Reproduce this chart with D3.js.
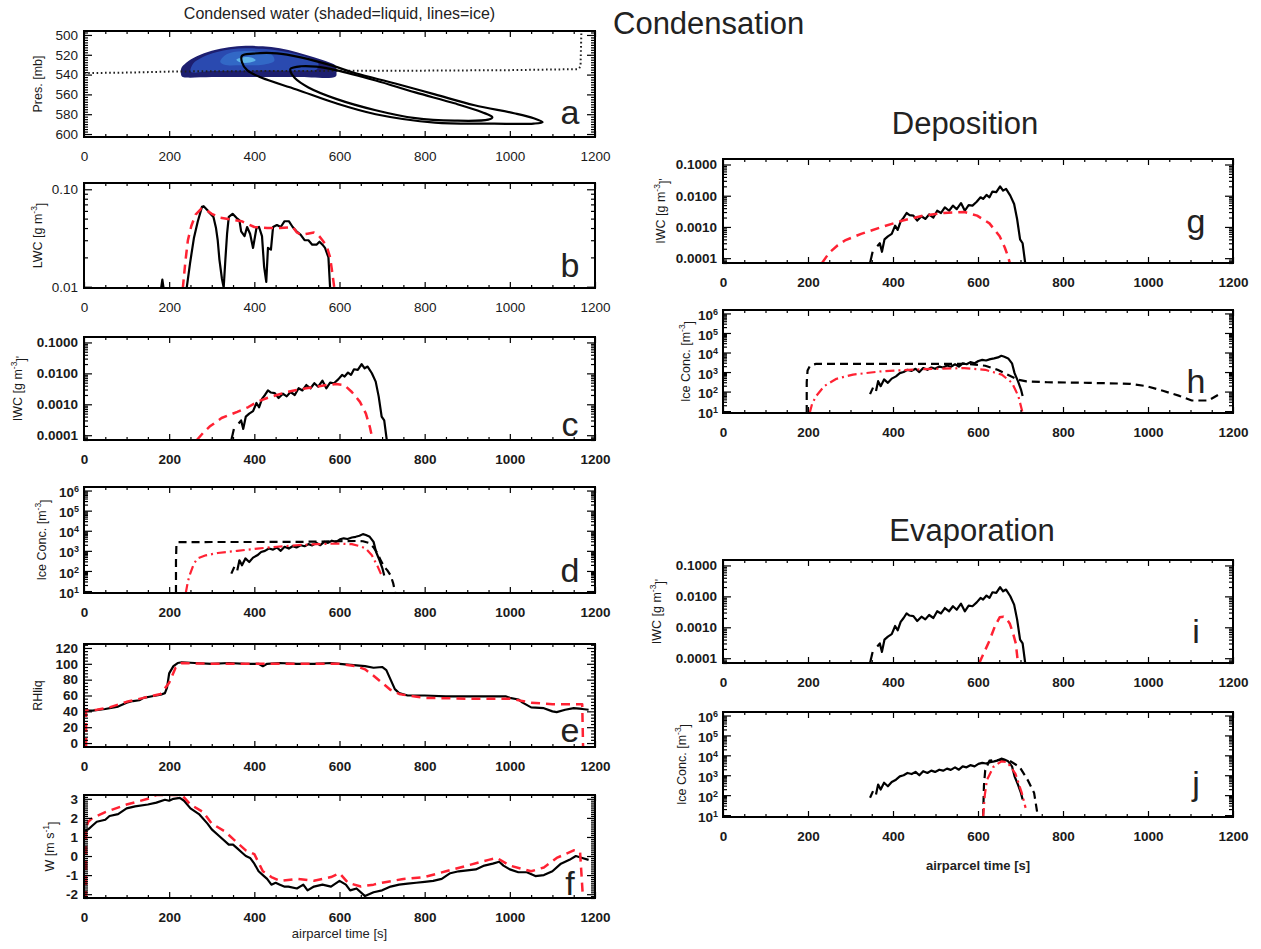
<!DOCTYPE html>
<html><head><meta charset="utf-8">
<script src="https://cdn.jsdelivr.net/npm/d3@7"></script>
<style>body{margin:0;background:#fff}</style>
</head><body>
<svg id="c" width="1261" height="949" xmlns="http://www.w3.org/2000/svg"></svg>
<script>
// ---------------- DATA ----------------
const timeTicks = [0,200,400,600,800,1000,1200];
const presTicks = [500,520,540,560,580,600];
const lwcTicks = [0.01,0.1];
const iwcTicks = [0.0001,0.001,0.01,0.1];
const concTicks = [1e1,1e2,1e3,1e4,1e5,1e6];
const rhTicks = [0,20,40,60,80,100,120];
const wTicks = [-2,-1,0,1,2,3];

// panel a: parcel level (dotted), liquid shading, ice contours  [time, pressure]
const parcelLevel = [[0,538.5],[100,538],[200,537],[230,536.8],[400,536.5],[600,536.2],[800,536],[1000,535.5],[1160,534.5],[1166,532],[1168,497]];
const liquidOuter = [[230,542],[228,534],[240,528],[265,521.5],[300,516],[340,512.5],[380,511],[420,511.5],[460,513.5],[500,517.5],[540,522.5],[575,527.5],[591,531],[593,538],[591,542],[500,542.5],[400,542.5],[300,542.5],[240,543]];
const liquidMid = [[250,537],[256,529],[278,522.5],[310,517.5],[345,514.5],[380,513.5],[420,514],[460,516],[500,519.5],[530,523.5],[550,528.5],[547,534.5],[500,536],[400,536],[300,536.5],[258,538]];
const liquidLight = [[320,527],[335,519.5],[370,516.5],[410,517],[440,519.5],[447,526],[420,530],[370,530.5],[330,530]];
const liquidCore = [[358,525],[375,522.5],[395,523],[403,525.5],[390,527.8],[368,527.8]];
const iceOuter = [[371,521],[397,518.8],[453,518.5],[509,522.6],[583,531],[638,538.7],[731,549],[824,560],[917,571],[1010,579],[1056,584],[1077,588],[1056,589.5],[963,589.5],[824,588.5],[685,580],[592,569],[499,555],[416,543],[383,535.5],[371,527.5]];
const iceInner = [[485,534],[509,531.6],[546,532],[592,535.5],[685,546],[778,558],[870,569],[935,578],[959,583],[949,585.5],[870,586.5],[778,584],[685,576],[592,564.5],[527,553],[495,543.5],[485,537]];

// panel b: LWC [time, g m-3]
const lwcSpike = [[181,0.0096],[184,0.0118],[187,0.0096]];
const lwcObs = [[241,0.0096],[249,0.0174],[258,0.0314],[267,0.0465],[277,0.066],[281,0.067],[290,0.061],[295,0.057],[304,0.052],[310,0.040],[314,0.030],[318,0.019],[324,0.012],[328,0.0098],[332,0.019],[336,0.035],[340,0.052],[349,0.056],[358,0.051],[365,0.048],[369,0.037],[377,0.033],[383,0.041],[390,0.035],[397,0.025],[405,0.040],[411,0.041],[418,0.033],[423,0.016],[428,0.0112],[432,0.025],[439,0.024],[444,0.041],[453,0.043],[462,0.041],[471,0.047],[481,0.047],[490,0.041],[499,0.037],[509,0.034],[518,0.030],[527,0.030],[536,0.027],[546,0.027],[553,0.029],[560,0.027],[566,0.025],[574,0.020],[578,0.0096]];
const lwcModel = [[232,0.0096],[238,0.018],[244,0.03],[252,0.042],[262,0.055],[275,0.063],[285,0.062],[300,0.056],[320,0.051],[345,0.049],[370,0.047],[385,0.044],[400,0.041],[430,0.040],[460,0.040],[490,0.041],[500,0.036],[510,0.034],[525,0.035],[540,0.036],[550,0.034],[560,0.030],[570,0.026],[578,0.020],[584,0.013],[588,0.0096]];

// panels c, g, i: IWC [time, g m-3]
const iwcObsStart = [[346,0.00007],[352,0.00016]];
const iwcObs = [[363,0.00024],[369,0.0003],[374,0.00016],[380,0.0004],[388,0.0005],[397,0.0006],[405,0.0011],[411,0.0008],[418,0.0015],[425,0.002],[432,0.0028],[439,0.0024],[448,0.0023],[457,0.0016],[467,0.0022],[476,0.0018],[485,0.0025],[495,0.002],[504,0.0033],[513,0.0028],[522,0.0042],[532,0.0033],[541,0.0048],[550,0.0037],[560,0.0058],[569,0.0033],[578,0.005],[587,0.0048],[597,0.0064],[606,0.0089],[612,0.0079],[620,0.0106],[627,0.0089],[634,0.0136],[643,0.013],[652,0.02],[659,0.0146],[666,0.0166],[676,0.0101],[685,0.0054],[692,0.0018],[699,0.0004],[705,0.0003],[711,0.00007]];
const iwcModelCond = [[265,0.00007],[280,0.00012],[295,0.00019],[323,0.00036],[360,0.00057],[385,0.0008],[407,0.0012],[430,0.0016],[453,0.002],[476,0.0025],[499,0.0029],[522,0.0033],[546,0.0037],[570,0.0042],[592,0.0045],[611,0.0042],[629,0.0025],[648,0.0012],[662,0.0005],[671,0.00019],[678,0.00007]];
const iwcModelDep = [[233,0.00007],[250,0.00015],[270,0.00026],[287,0.00037],[325,0.0006],[374,0.001],[423,0.0016],[471,0.0023],[520,0.0028],[568,0.003],[598,0.0023],[627,0.0013],[651,0.0005],[663,0.00022],[670,0.00012],[675,0.00007]];
const iwcModelEvap = [[603,0.00007],[615,0.00016],[627,0.00037],[640,0.0011],[651,0.0021],[660,0.0022],[668,0.0018],[675,0.0013],[683,0.0006],[689,0.0003],[694,0.00007]];

// panels d, h, j: ice concentration [time, m-3]
const concObsStart = [[346,74],[353,160]];
const concObs = [[360,107],[365,340],[371,190],[379,420],[388,280],[397,460],[407,600],[416,880],[425,1000],[434,1300],[444,1150],[453,1470],[462,1000],[471,1600],[481,1300],[490,1700],[499,1470],[509,1900],[518,1700],[527,2150],[536,1860],[546,2500],[555,1900],[564,2800],[573,2500],[582,3200],[592,2800],[601,3700],[610,4200],[619,3900],[629,4600],[638,5000],[647,5600],[655,6800],[662,6100],[671,5000],[680,2800],[686,880],[694,340],[701,130],[705,60]];
const concTotalCond = [[216,8],[216,300],[217,2000],[220,2700],[300,2750],[400,2750],[500,2800],[560,2900],[600,3000],[640,3100],[655,3000],[668,2500],[680,1500],[690,700],[698,300],[705,160],[712,110],[720,60],[726,25],[731,8]];
const concNewCond = [[239,8],[244,30],[249,70],[258,230],[267,420],[286,600],[314,780],[360,1000],[407,1300],[453,1600],[499,1900],[546,2150],[592,2300],[629,2150],[648,1700],[662,1300],[676,600],[690,160],[697,74],[700,60]];
const concTotalDep = [[197,8],[197,300],[199,1200],[204,1950],[212,2400],[219,2600],[300,2600],[400,2600],[500,2600],[578,2600],[617,2100],[646,1300],[675,650],[695,400],[714,330],[763,300],[860,280],[957,250],[996,190],[1035,110],[1074,60],[1103,35],[1142,35],[1166,70]];
const concNewDep = [[204,8],[210,25],[219,58],[238,190],[267,450],[306,740],[374,1100],[471,1400],[568,1600],[617,1300],[656,740],[680,280],[695,58],[705,8]];
const concTotalEvap = [[612,8],[614,300],[617,1800],[627,5400],[655,6000],[674,5400],[698,2600],[717,570],[732,130],[741,8]];
const concNewEvap = [[612,8],[616,100],[621,570],[636,2600],[655,5000],[669,4500],[688,1200],[703,130],[712,23]];

// panel e: RH over liquid [time, %]
const rhObs = [[0,41],[20,41],[50,43],[80,46],[100,51],[115,53],[130,54],[140,57],[160,59],[180,61],[190,63],[195,70],[200,88],[210,97],[220,101],[230,102],[260,101],[300,100],[340,101],[380,100],[410,100],[420,97],[430,100],[460,101],[500,100],[540,100],[580,101],[600,100],[620,99],[640,98],[660,97],[680,95],[700,96],[710,92],[720,80],[730,68],[740,63],[760,60],[780,60],[800,60],[850,59],[900,59],[950,59],[990,59],[1000,57],[1020,55],[1030,51],[1050,45],[1080,44],[1100,40],[1110,39],[1130,42],[1150,44],[1170,43],[1185,42]];
const rhModel = [[5,-5],[5,41],[30,42],[60,45],[100,52],[140,57],[180,62],[200,76],[215,95],[230,101],[300,100],[400,100],[500,100],[600,100],[640,97],[660,93],[680,85],[700,76],[720,67],[740,62],[760,60],[800,57],[900,56],[1000,56],[1050,51],[1100,49],[1150,49],[1170,49],[1172,-5]];

// panel f: vertical velocity [time, m s-1]
const wObs = [[0,1.3],[10,1.4],[20,1.6],[30,1.8],[50,1.9],[60,2.1],[80,2.2],[100,2.5],[120,2.6],[150,2.7],[170,2.8],[190,2.95],[200,2.9],[210,3.0],[225,3.05],[235,2.9],[250,2.5],[270,2.2],[290,1.7],[300,1.4],[320,1.0],[340,0.6],[350,0.6],[360,0.4],[370,0.2],[380,0.0],[390,-0.1],[400,-0.4],[410,-0.8],[420,-1.0],[430,-1.2],[440,-1.5],[450,-1.4],[460,-1.5],[470,-1.6],[480,-1.6],[500,-1.7],[515,-1.5],[525,-1.8],[540,-1.6],[560,-1.5],[580,-1.6],[600,-1.3],[615,-1.5],[625,-1.8],[640,-1.7],[660,-2.1],[680,-1.9],[700,-1.8],[720,-1.6],[740,-1.5],[760,-1.45],[780,-1.4],[800,-1.35],[820,-1.3],[840,-1.2],[860,-0.9],[880,-0.8],[900,-0.75],[920,-0.7],[940,-0.5],[960,-0.4],[975,-0.3],[985,-0.5],[1000,-0.7],[1020,-0.85],[1040,-0.85],[1060,-1.05],[1080,-1.0],[1100,-0.8],[1120,-0.4],[1140,-0.2],[1155,0.0],[1170,-0.1],[1185,-0.2]];
const wModel = [[5,-2.3],[5,1.5],[10,1.8],[20,2.0],[50,2.3],[100,2.7],[150,3.0],[170,3.2],[230,3.2],[250,2.7],[280,2.3],[300,1.7],[330,1.3],[360,0.7],[380,0.3],[400,0.1],[420,-0.8],[440,-1.1],[460,-1.3],[500,-1.2],[540,-1.3],[580,-1.1],[600,-0.9],[620,-1.4],[650,-1.6],[680,-1.5],[700,-1.4],[750,-1.2],[800,-1.1],[850,-0.8],[900,-0.5],[950,-0.2],[970,-0.1],[1000,-0.5],[1050,-0.8],[1080,-0.6],[1110,-0.1],[1150,0.3],[1165,0.2],[1172,-2.3]];

// ---------------- DRAWING ----------------
const FONT = "'Liberation Sans', Arial, Helvetica, sans-serif";
const RED = "#ff2233";
const STY = {
  solid:   {stroke:"#000", w:2.2, dash:null},
  reddash: {stroke:RED, w:2.5, dash:"9,6"},
  blkdash: {stroke:"#000", w:2.2, dash:"8,5"},
  reddot:  {stroke:RED, w:2.2, dash:"9,4,2,4"}
};
const svg = d3.select("#c");

const L = {x0:84, x1:595}, R = {x0:723, x1:1233};
const iwcLab = [["IWC [g m",0],["-3",1],["]'",0]];
const concLab = [["Ice Conc. [m",0],["-3",1],["]",0]];
const iwcFmt = d => d.toFixed(4);
const TF = 13.5;

const panels = [
 {col:L, y0:31, y1:137, dom:[496,603], rev:true, log:false, ticks:presTicks, minor:2.5, fmt:d=>d, lab:[["Pres. [mb]",0]], labX:38, letter:"a", ly:124, bold:false},
 {col:L, y0:183, y1:288, dom:[0.0097,0.116], log:true, ticks:lwcTicks, fmt:d=>d.toFixed(2), lab:[["LWC [g m",0],["-3",1],["]",0]], labX:38, letter:"b", ly:277, bold:false,
   series:[[lwcSpike,"solid"],[lwcObs,"solid"],[lwcModel,"reddash"]]},
 {col:L, y0:337, y1:440, dom:[0.00007,0.15], log:true, ticks:iwcTicks, fmt:iwcFmt, lab:iwcLab, labX:18, letter:"c", ly:436, bold:true,
   series:[[iwcObsStart,"solid"],[iwcObs,"solid"],[iwcModelCond,"reddash"]]},
 {col:L, y0:487, y1:593, dom:[8,1.5e6], log:true, ticks:concTicks, sup:true, lab:concLab, labX:42, letter:"d", ly:582, bold:true,
   series:[[concObsStart,"solid"],[concObs,"solid"],[concTotalCond,"blkdash"],[concNewCond,"reddot"]]},
 {col:L, y0:644, y1:747, dom:[-5,125], log:false, ticks:rhTicks, minor:4, fmt:d=>d, lab:[["RHliq",0]], labX:38, letter:"e", ly:742, bold:true,
   series:[[rhObs,"solid"],[rhModel,"reddash"]]},
 {col:L, y0:795, y1:898, dom:[-2.2,3.2], log:false, ticks:wTicks, minor:0.1, fmt:d=>d, lab:[["W [m s",0],["-1",1],["]",0]], labX:50, letter:"f", ly:895, bold:true,
   series:[[wObs,"solid"],[wModel,"reddash"]]},
 {col:R, y0:159, y1:263, dom:[0.00007,0.15], log:true, ticks:iwcTicks, fmt:iwcFmt, lab:iwcLab, labX:661, letter:"g", ly:233, bold:true,
   series:[[iwcObsStart,"solid"],[iwcObs,"solid"],[iwcModelDep,"reddash"]]},
 {col:R, y0:310, y1:413, dom:[8,1.5e6], log:true, ticks:concTicks, sup:true, lab:concLab, labX:686, letter:"h", ly:393, bold:true,
   series:[[concObsStart,"solid"],[concObs,"solid"],[concTotalDep,"blkdash"],[concNewDep,"reddot"]]},
 {col:R, y0:560, y1:663, dom:[0.00007,0.15], log:true, ticks:iwcTicks, fmt:iwcFmt, lab:iwcLab, labX:657, letter:"i", ly:643, bold:true,
   series:[[iwcObsStart,"solid"],[iwcObs,"solid"],[iwcModelEvap,"reddash"]]},
 {col:R, y0:712, y1:817, dom:[8,1.5e6], log:true, ticks:concTicks, sup:true, lab:concLab, labX:682, letter:"j", ly:795, bold:true,
   series:[[concObsStart,"solid"],[concObs,"solid"],[concTotalEvap,"blkdash"],[concNewEvap,"reddot"]]}
];

function logMinor(dom){
  const out=[];
  for(let e=Math.floor(Math.log10(dom[0]))-1;e<=Math.ceil(Math.log10(dom[1]));e++)
    for(let k=2;k<=9;k++){const v=k*Math.pow(10,e); if(v>dom[0]&&v<dom[1]) out.push(v);}
  return out;
}
function styleAxis(g, bold){
  g.select(".domain").remove();
  g.selectAll(".tick line").attr("stroke","#000").attr("stroke-width",1.2);
  g.selectAll("text").attr("font-family",FONT).attr("font-size",TF).attr("fill","#1a1a1a")
   .attr("font-weight", bold?"bold":"normal");
}

panels.forEach((p,i)=>{
  const x = d3.scaleLinear().domain([0,1200]).range([p.col.x0,p.col.x1]);
  const y = (p.log?d3.scaleLog():d3.scaleLinear()).domain(p.dom).range(p.rev?[p.y0,p.y1]:[p.y1,p.y0]);
  p.x=x; p.y=y;
  const g = svg.append("g");
  const clipId="clip"+i;
  svg.append("clipPath").attr("id",clipId).append("rect")
    .attr("x",p.col.x0).attr("y",p.y0).attr("width",p.col.x1-p.col.x0).attr("height",p.y1-p.y0);
  const plot = g.append("g").attr("clip-path",`url(#${clipId})`);
  p.plot = plot;

  const xMinor = d3.range(50,1200,50).filter(v=>v%200!==0);
  const gb = g.append("g").attr("transform",`translate(0,${p.y1})`)
    .call(d3.axisBottom(x).tickValues(timeTicks).tickSize(-6).tickPadding(14).tickFormat(d=>d));
  styleAxis(gb,p.bold);
  g.append("g").attr("transform",`translate(0,${p.y1})`)
    .call(d3.axisBottom(x).tickValues(xMinor).tickSize(-3).tickFormat("")).call(s=>styleAxis(s,false));
  g.append("g").attr("transform",`translate(0,${p.y0})`)
    .call(d3.axisTop(x).tickValues(timeTicks).tickSize(-6).tickFormat("")).call(s=>styleAxis(s,false));
  g.append("g").attr("transform",`translate(0,${p.y0})`)
    .call(d3.axisTop(x).tickValues(xMinor).tickSize(-3).tickFormat("")).call(s=>styleAxis(s,false));

  let yMinor;
  if(p.log) yMinor = logMinor(p.dom);
  else { const lo=Math.min(...p.dom), hi=Math.max(...p.dom);
    yMinor = d3.range(Math.ceil(lo/p.minor)*p.minor, hi, p.minor).map(v=>+v.toFixed(4)).filter(v=>!p.ticks.some(t=>Math.abs(t-v)<1e-6)); }
  const gl = g.append("g").attr("transform",`translate(${p.col.x0},0)`)
    .call(d3.axisLeft(y).tickValues(p.ticks).tickSize(-8).tickPadding(6).tickFormat(p.sup?"":p.fmt));
  styleAxis(gl,p.bold);
  if(p.sup){
    gl.selectAll(".tick").append("text").attr("x",-5).attr("dy","0.45em").attr("text-anchor","end")
      .attr("font-family",FONT).attr("font-size",TF).attr("fill","#1a1a1a").attr("font-weight","bold")
      .each(function(d){
        const t=d3.select(this);
        t.append("tspan").text("10");
        t.append("tspan").attr("dy","-0.55em").attr("font-size",9).text(Math.round(Math.log10(d)));
      });
  }
  g.append("g").attr("transform",`translate(${p.col.x0},0)`)
    .call(d3.axisLeft(y).tickValues(yMinor).tickSize(-4).tickFormat("")).call(s=>styleAxis(s,false));
  g.append("g").attr("transform",`translate(${p.col.x1},0)`)
    .call(d3.axisRight(y).tickValues(p.ticks).tickSize(-8).tickFormat("")).call(s=>styleAxis(s,false));
  g.append("g").attr("transform",`translate(${p.col.x1},0)`)
    .call(d3.axisRight(y).tickValues(yMinor).tickSize(-4).tickFormat("")).call(s=>styleAxis(s,false));

  const line = d3.line().x(d=>x(d[0])).y(d=>y(d[1]));
  (p.series||[]).forEach(([data,st])=>{
    const s=STY[st];
    plot.append("path").attr("d",line(data)).attr("fill","none")
      .attr("stroke",s.stroke).attr("stroke-width",s.w).attr("stroke-linejoin","round")
      .attr("stroke-dasharray",s.dash);
  });

  g.append("rect").attr("x",p.col.x0).attr("y",p.y0).attr("width",p.col.x1-p.col.x0).attr("height",p.y1-p.y0)
    .attr("fill","none").attr("stroke","#000").attr("stroke-width",2);

  const cy=(p.y0+p.y1)/2;
  const yl = g.append("text").attr("transform",`translate(${p.labX},${cy}) rotate(-90)`)
    .attr("text-anchor","middle").attr("font-family",FONT).attr("font-size",12.5).attr("fill","#1a1a1a")
    .attr("dy","0.35em");
  p.lab.forEach(([t,s])=>{
    const ts=yl.append("tspan").text(t);
    if(s===1) ts.attr("font-size",8.5).attr("dy","-0.6em");
    else if(yl.selectAll("tspan").size()>1) ts.attr("dy","0.6em");
  });

  g.append("text").attr("x",p.col.x1-(p.col===L?25:37)).attr("y",p.ly).attr("text-anchor","middle")
    .attr("font-family",FONT).attr("font-size",34).attr("fill","#222").text(p.letter);
});

// ---- panel a content ----
{
  const p=panels[0], x=p.x, y=p.y, plot=p.plot;
  const closed = d3.line().x(d=>x(d[0])).y(d=>y(d[1])).curve(d3.curveCatmullRomClosed.alpha(0.5));
  plot.insert("path",":first-child").attr("d",closed(liquidCore)).attr("fill","#5fb4ea");
  plot.insert("path",":first-child").attr("d",closed(liquidLight)).attr("fill","#3268c6");
  plot.insert("path",":first-child").attr("d",closed(liquidMid)).attr("fill","#2a4ab0");
  plot.insert("path",":first-child").attr("d",closed(liquidOuter)).attr("fill","#1d1f70");
  plot.append("path").attr("d",d3.line().x(d=>x(d[0])).y(d=>y(d[1]))(parcelLevel))
    .attr("fill","none").attr("stroke","#222").attr("stroke-width",2).attr("stroke-dasharray","1.6,2.6");
  [iceOuter,iceInner].forEach(c=>plot.append("path").attr("d",closed(c)).attr("fill","none")
    .attr("stroke","#000").attr("stroke-width",2.2));
}

// ---- titles ----
svg.append("text").attr("x",(L.x0+L.x1)/2).attr("y",19).attr("text-anchor","middle")
  .attr("font-family",FONT).attr("font-size",16).attr("fill","#222").text("Condensed water (shaded=liquid, lines=ice)");
svg.append("text").attr("x",613).attr("y",34).attr("font-family",FONT).attr("font-size",31).attr("fill","#222").text("Condensation");
svg.append("text").attr("x",965).attr("y",134).attr("text-anchor","middle").attr("font-family",FONT).attr("font-size",31).attr("fill","#222").text("Deposition");
svg.append("text").attr("x",972).attr("y",541).attr("text-anchor","middle").attr("font-family",FONT).attr("font-size",31).attr("fill","#222").text("Evaporation");
svg.append("text").attr("x",(L.x0+L.x1)/2).attr("y",938).attr("text-anchor","middle").attr("font-family",FONT).attr("font-size",13).attr("fill","#222").text("airparcel time [s]");
svg.append("text").attr("x",(R.x0+R.x1)/2).attr("y",870).attr("text-anchor","middle").attr("font-family",FONT).attr("font-size",13).attr("font-weight","bold").attr("fill","#222").text("airparcel time [s]");
</script>
</body></html>
